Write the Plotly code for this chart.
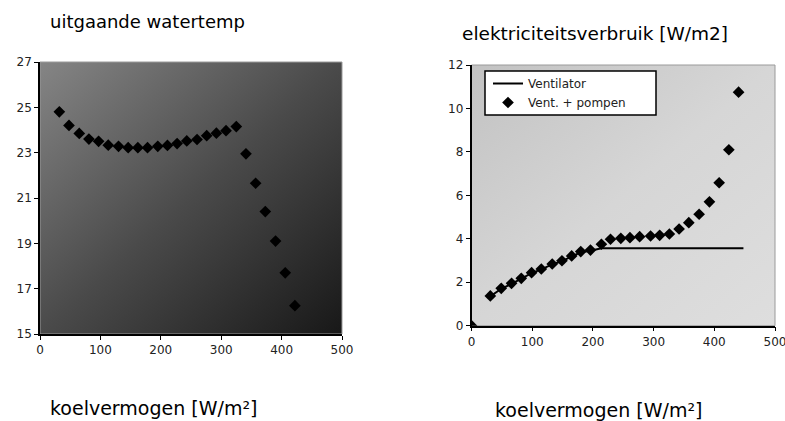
import base64
import plotly.graph_objects as go

# ---- data ----
left_x = [32, 48, 65, 81, 97, 113, 130, 146, 162, 178, 195, 211, 227, 243, 260,
          276, 292, 308, 325, 341, 357, 373, 390, 406, 422]
left_y = [24.8, 24.2, 23.85, 23.6, 23.5, 23.33, 23.28, 23.22, 23.22, 23.22, 23.28,
          23.32, 23.4, 23.52, 23.58, 23.75, 23.86, 23.97, 24.15, 22.95, 21.65, 20.4,
          19.1, 17.7, 16.25]

right_x = [0, 31, 49, 66, 82, 99, 115, 133, 149, 165, 180, 196, 214, 229, 246, 261,
           277, 295, 310, 326, 342, 358, 375, 392, 408, 424, 440]
vent_pompen = [0, 1.37, 1.72, 1.95, 2.18, 2.44, 2.61, 2.84, 2.99, 3.21, 3.41, 3.48,
               3.75, 3.98, 4.02, 4.05, 4.1, 4.13, 4.16, 4.22, 4.45, 4.74, 5.13, 5.7,
               6.58, 8.1, 10.75]
vent_x = [31, 49, 66, 82, 99, 115, 133, 149, 165, 180, 196, 214, 229, 246, 261, 277,
          295, 310, 326, 342, 358, 375, 392, 408, 424, 448]
ventilator = [1.35, 1.7, 1.93, 2.16, 2.42, 2.59, 2.82, 2.97, 3.19, 3.38, 3.45, 3.56,
              3.56, 3.56, 3.56, 3.56, 3.56, 3.56, 3.56, 3.56, 3.56, 3.56, 3.56, 3.56,
              3.56, 3.56]

left_title = "uitgaande watertemp"
right_title = "elektriciteitsverbruik [W/m2]"
x_title = "koelvermogen [W/m²]"

FONT = "DejaVu Sans, sans-serif"

W, H = 785, 421


def px(x):
    return x / W


def py(y):
    return 1 - y / H


def grad_svg(c1, c2, c3):
    svg = ('<svg xmlns="http://www.w3.org/2000/svg" width="100" height="100" '
           'preserveAspectRatio="none"><defs><linearGradient id="g" x1="0" y1="0" '
           'x2="1" y2="1"><stop offset="0" stop-color="%s"/><stop offset="0.5" '
           'stop-color="%s"/><stop offset="1" stop-color="%s"/></linearGradient>'
           '</defs><rect width="100" height="100" fill="url(#g)"/></svg>') % (c1, c2, c3)
    return "data:image/svg+xml;base64," + base64.b64encode(svg.encode()).decode()


L_dom_x = [px(40), px(342)]
L_dom_y = [py(334), py(62)]
R_dom_x = [px(471.5), px(775)]
R_dom_y = [py(325.7), py(65)]

fig = go.Figure()

fig.add_trace(go.Scatter(
    x=left_x, y=left_y, mode="markers", xaxis="x", yaxis="y",
    marker=dict(symbol="diamond", size=9, color="black"), showlegend=False))

fig.add_trace(go.Scatter(
    x=vent_x, y=ventilator, mode="lines", xaxis="x2", yaxis="y2",
    name="Ventilator", line=dict(color="black", width=2)))
fig.add_trace(go.Scatter(
    x=right_x, y=vent_pompen, mode="markers", xaxis="x2", yaxis="y2",
    name="Vent. + pompen", marker=dict(symbol="diamond", size=9, color="black")))

axis_common = dict(showgrid=False, zeroline=False, showline=True, linecolor="black",
                   linewidth=1.5, ticks="outside", ticklen=4, tickcolor="black",
                   tickfont=dict(family=FONT, size=12, color="#222"), mirror=False,
                   automargin=False, ticklabeloverflow="allow")

fig.update_layout(
    width=W, height=H, margin=dict(l=0, r=0, t=0, b=0, pad=0, autoexpand=False),
    paper_bgcolor="white", plot_bgcolor="rgba(0,0,0,0)",
    font=dict(family=FONT, color="#222"),
    xaxis=dict(domain=L_dom_x, range=[0, 500], tickvals=[0, 100, 200, 300, 400, 500],
               anchor="y", **axis_common),
    yaxis=dict(domain=L_dom_y, range=[15, 27], tickvals=[15, 17, 19, 21, 23, 25, 27],
               anchor="x", **axis_common),
    xaxis2=dict(domain=R_dom_x, range=[0, 500], tickvals=[0, 100, 200, 300, 400, 500],
                anchor="y2", **axis_common),
    yaxis2=dict(domain=R_dom_y, range=[0, 12], tickvals=[0, 2, 4, 6, 8, 10, 12],
                anchor="x2", **axis_common),
    legend=dict(x=px(488), y=py(69), xanchor="left", yanchor="top",
                xref="paper", yref="paper",
                bgcolor="rgba(0,0,0,0)", borderwidth=0,
                font=dict(family=FONT, size=12, color="#222"),
                itemwidth=30, tracegroupgap=0),
    images=[
        dict(source=grad_svg("#858585", "#4a4a4a", "#181818"), xref="paper", yref="paper",
             x=L_dom_x[0], y=L_dom_y[1], sizex=L_dom_x[1] - L_dom_x[0],
             sizey=L_dom_y[1] - L_dom_y[0], sizing="stretch", layer="below",
             xanchor="left", yanchor="top"),
        dict(source=grad_svg("#c2c2c2", "#d6d6d6", "#dedede"), xref="paper", yref="paper",
             x=R_dom_x[0], y=R_dom_y[1], sizex=R_dom_x[1] - R_dom_x[0],
             sizey=R_dom_y[1] - R_dom_y[0], sizing="stretch", layer="below",
             xanchor="left", yanchor="top"),
    ],
    shapes=[
        dict(type="rect", xref="paper", yref="paper", x0=L_dom_x[0], x1=L_dom_x[1],
             y0=L_dom_y[0], y1=L_dom_y[1], line=dict(color="#9a9a9a", width=1),
             layer="below"),
        dict(type="rect", xref="paper", yref="paper", x0=R_dom_x[0], x1=R_dom_x[1],
             y0=R_dom_y[0], y1=R_dom_y[1], line=dict(color="#9a9a9a", width=1),
             layer="below"),
        # legend box
        dict(type="rect", xref="paper", yref="paper", x0=px(485), x1=px(656),
             y0=py(115), y1=py(71), fillcolor="white",
             line=dict(color="black", width=1.5), layer="above"),
    ],
    annotations=[
        dict(text=left_title, xref="paper", yref="paper", x=px(48), y=py(22),
             xanchor="left", yanchor="middle", showarrow=False,
             font=dict(family=FONT, size=18, color="#000")),
        dict(text=right_title, xref="paper", yref="paper", x=px(460), y=py(33),
             xanchor="left", yanchor="middle", showarrow=False,
             font=dict(family=FONT, size=18.5, color="#000")),
        dict(text=x_title, xref="paper", yref="paper", x=px(48), y=py(408),
             xanchor="left", yanchor="middle", showarrow=False,
             font=dict(family=FONT, size=19, color="#000")),
        dict(text=x_title, xref="paper", yref="paper", x=px(493), y=py(410),
             xanchor="left", yanchor="middle", showarrow=False,
             font=dict(family=FONT, size=19, color="#000")),
    ],
)

fig.write_html(
    "out.html",
    config={"displayModeBar": False},
    post_script="document.body.style.margin='0';document.body.style.overflow='hidden';",
)
